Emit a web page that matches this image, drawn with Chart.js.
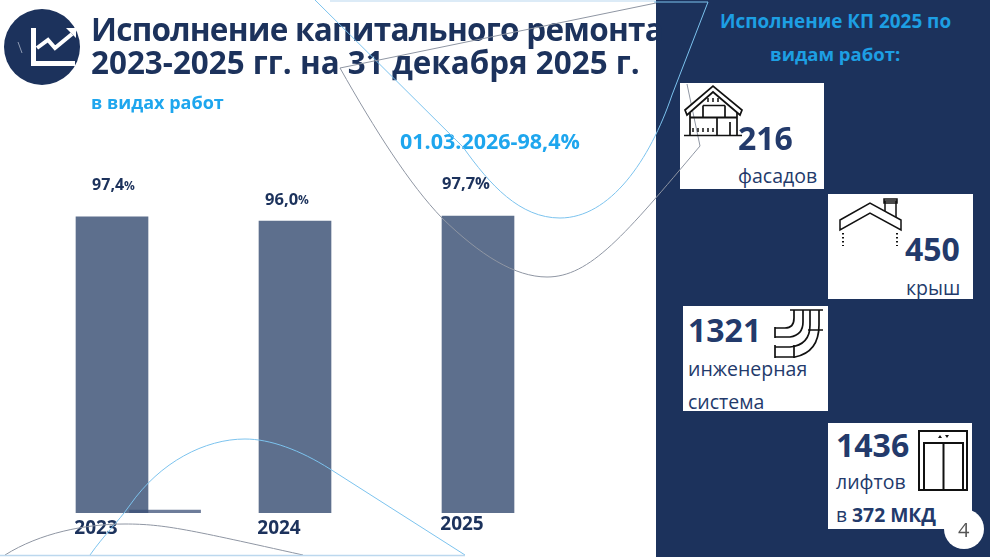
<!DOCTYPE html>
<html lang="ru">
<head>
<meta charset="utf-8">
<style>
html,body{margin:0;padding:0;background:#fff;overflow:hidden}
#stage{position:relative;width:990px;height:557px;overflow:hidden;background:#fff}
#panel{position:absolute;left:656px;top:0;width:334px;height:557px;background:#1c325c}
.card{position:absolute;background:#fff}
.t{position:absolute;white-space:nowrap;transform:translateY(-50%);line-height:1;font-family:"Open Sans",sans-serif}
canvas{position:absolute;left:0;top:0}
#wrap{position:absolute;left:0;top:0;width:990px;height:557px}
svg{position:absolute;left:0;top:0;pointer-events:none}
</style>
</head>
<body>
<div id="stage">
  <div id="wrap"><canvas id="c" width="990" height="557"></canvas></div>
  <div id="panel"></div>
  <div class="card" style="left:680px;top:83px;width:144px;height:106px"></div>
  <div class="card" style="left:828px;top:194px;width:145px;height:105px"></div>
  <div class="card" style="left:683px;top:306px;width:145px;height:105px"></div>
  <div class="card" style="left:828px;top:423px;width:144px;height:106px"></div>
  <div id="texts"></div>
  <svg width="990" height="557" viewBox="0 0 990 557" fill="none">
    <rect x="330" y="0" width="326" height="2" fill="#dcebf7"/>
    <!-- logo -->
    <circle cx="42" cy="47" r="38" fill="#1c325c"/>
    <path d="M33.500 28V63.500H75" stroke="#fff" stroke-width="5"/>
    <path d="M37 48L48 40L55 48L72 34" stroke="#fff" stroke-width="4"/>
    <path d="M66 28H76V38Z" fill="#fff"/>
    <path d="M18 42L22 53" stroke="#8d9ab3" stroke-width="1"/>
    <!-- curves -->
    <path d="M315 0L463 147C490 185 520 218 560 218C610 218 650 160 672 95L708 2L654 2" stroke="#7cc3ee" stroke-width="1"/>
    <path d="M656 3L340 68C375 130 410 185 442 218C480 255 515 277 547 277C590 277 625 235 700 146L687 84" stroke="#8f96a3" stroke-width="1"/>
    <path d="M465 555L330 469C300 450 270 439 245 439C205 439 160 462 130 505C118 522 104 535 90 555" stroke="#7cc3ee" stroke-width="1"/>
    <path d="M5 555C40 533 85 524 125 524C165 524 190 530 303 555" stroke="#8f96a3" stroke-width="1"/>
    <path d="M0 555.500H465" stroke="#bcd8ee" stroke-width="1.500"/>
    <!-- house -->
    <g stroke="#111" stroke-width="1.700">
      <path d="M685 110L713 86L742 110L740 115L713 92L687 115Z" fill="#fff"/>
      <path d="M690 113V135M737 113V135M684 135.500H742M703 105.500H725M703 105.500V117M725 105.500V117M717 118V135M730 122V135"/>
      <path d="M690 117.500H737" stroke-width="2"/>
      <path d="M693 128V132M698 128V132M703 128V132M708 128V132M713 128V132M708 98V102M713 98V102M718 98V102" stroke-width="1.500"/>
    </g>
    <!-- roof -->
    <g stroke="#111" stroke-width="1.500">
      <path d="M885 214V201H896V222M884 199H897V203H884Z" fill="#fff"/>
      <path d="M840 220L870 203L901 220V230L870 213L840 230Z" fill="#fff"/>
      <path d="M843 233V246M897 233V246" stroke-dasharray="1.500 2.500" stroke-width="2"/>
    </g>
    <!-- pipes -->
    <g stroke="#111" stroke-width="1.700">
      <path d="M775 328H785Q794 328 794 318V310M775 337H790Q803 335 803 322V310"/>
      <path d="M775 347H790Q810 345 810 325V310M775 357H795Q819 352 819 325V310"/>
      <path d="M790 310H823M775 327V338M775 345V358M794 345V358M808 330H823"/>
    </g>
    <!-- elevator -->
    <g stroke="#111">
      <rect x="919" y="431" width="48" height="59" stroke-width="2"/>
      <rect x="924" y="443" width="39" height="47" stroke-width="2"/>
      <path d="M943.500 443V490" stroke-width="2"/>
      <path d="M938 438L940 435L942 438ZM945 435L947 438L949 435Z" fill="#111" stroke="none"/>
    </g>
    <circle cx="964" cy="529" r="20" fill="#fff"/>
  </svg>
  <div id="texts2"></div>
</div>
<script src="https://cdn.jsdelivr.net/npm/chart.js@4/dist/chart.umd.min.js"></script>
<script>
const categories = ["2023", "2024", "2025"];
const completionPercent = [97.4, 96.0, 97.7];
const percentLabels = ["97,4", "96,0", "97,7"];
const strayBarX = [0.79];
const strayBarValue = [1];
const cardNumbers = ["216", "450", "1321", "1436"];

const NAVY = "#1c325c", CARD = "#233a6b", SKY = "#1ea6ee", PANELSKY = "#1d9fe3";
const LABEL_FONT = '"Open Sans", sans-serif';

function put(host, x, y, str, size, color, weight, font) {
  const s = document.createElement("div");
  s.className = "t";
  s.textContent = str;
  s.style.cssText = `left:${x}px;top:${y}px;font-size:${size}px;color:${color};font-weight:${weight || 400};font-family:${font || LABEL_FONT}`;
  document.getElementById(host).appendChild(s);
  return s;
}
put("texts", 91, 29, "Исполнение капитального ремонта", 31.5, NAVY, 700).style.letterSpacing = "-0.75px";
put("texts", 91, 62, "2023-2025 гг. на 31 декабря 2025 г.", 31.4, NAVY, 700);
put("texts", 91, 102, "в видах работ", 18, SKY, 700);
put("texts", 400, 141, "01.03.2026-98,4%", 21.5, SKY, 700);
put("texts", 720, 21, "Исполнение КП 2025 по", 18.9, PANELSKY, 700);
put("texts", 770, 54, "видам работ:", 18.5, PANELSKY, 700);
put("texts", 738, 138, cardNumbers[0], 32, CARD, 700);
put("texts", 738, 176, "фасадов", 19.5, CARD, 400);
put("texts", 905, 249, cardNumbers[1], 32, CARD, 700);
put("texts", 906, 288, "крыш", 19.5, CARD, 400);
put("texts", 688, 330, cardNumbers[2], 32, CARD, 700);
put("texts", 688, 369, "инженерная", 19.5, CARD, 400);
put("texts", 688, 402, "система", 19.5, CARD, 400);
put("texts", 836, 445, cardNumbers[3], 32, CARD, 700);
put("texts", 836, 482, "лифтов", 19.5, CARD, 400);
const mkd = put("texts", 836, 515, "в ", 19.3, CARD, 400);
const b = document.createElement("b"); b.textContent = "372 МКД"; mkd.appendChild(b);
put("texts2", 958, 530, "4", 20, "#555", 400);

const barLabels = {
  id: "barLabels",
  afterDatasetsDraw(chart) {
    const ctx = chart.ctx;
    const bars = chart.getDatasetMeta(0).data;
    const dx = [1.5, -8, -12], dy = [-31, -21, -32];
    const numSize = [16, 16.5, 16.5], pctSize = [12, 12, 16.5];
    ctx.save();
    ctx.fillStyle = NAVY;
    ctx.textBaseline = "middle";
    ctx.textAlign = "left";
    bars.forEach((bar, i) => {
      const n = percentLabels[i];
      const f1 = `700 ${numSize[i]}px ${LABEL_FONT}`;
      const f2 = `700 ${pctSize[i]}px ${LABEL_FONT}`;
      ctx.font = f1;
      const w1 = ctx.measureText(n).width;
      ctx.font = f2;
      const w2 = ctx.measureText("%").width;
      const x = bar.x + dx[i] - (w1 + w2) / 2;
      const y = bar.y + dy[i];
      ctx.font = f1;
      ctx.fillText(n, x, y);
      ctx.font = f2;
      ctx.fillText("%", x + w1, y + 0.5);
    });
    ctx.restore();
  }
};

new Chart(document.getElementById("c"), {
  type: "bar",
  plugins: [barLabels],
  data: {
    labels: categories,
    datasets: [
      { data: completionPercent, backgroundColor: "#5d6f8d", barThickness: 72, grouped: false, order: 1 },
      { data: strayBarX.map((x, i) => ({ x, y: strayBarValue[i] })), xAxisID: "x2", backgroundColor: "rgba(60,80,120,0.75)", barThickness: 71, grouped: false, order: 0 }
    ]
  },
  options: {
    responsive: false,
    animation: false,
    events: [],
    devicePixelRatio: 1,
    layout: { padding: { left: 20.5, right: 420.5, top: 102.6, bottom: 0 } },
    plugins: { legend: { display: false }, tooltip: { enabled: false }, title: { display: false } },
    scales: {
      x: {
        type: "category",
        grid: { display: false, drawTicks: false },
        border: { display: false },
        afterFit(s) { s.height = 44; },
        ticks: {
          color: NAVY,
          maxRotation: 0,
          padding: 2,
          labelOffset: -16,
          font: c => ({ family: LABEL_FONT, size: 19, weight: "700", lineHeight: c.index === 2 ? 1.0 : 1.4 })
        }
      },
      x2: { type: "linear", min: 0, max: 3, display: false, offset: false },
      y: { min: 0, max: 135, display: false }
    }
  }
});
</script>
</body>
</html>
